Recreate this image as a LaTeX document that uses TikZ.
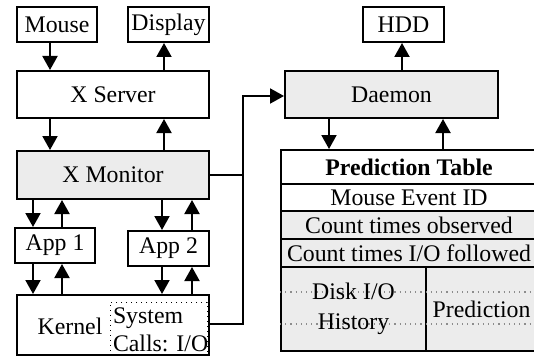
\documentclass[tikz,border=0pt]{standalone}
\usepackage{fontspec}
\setmainfont{Liberation Serif}
\usepackage{tikz}
\usetikzlibrary{arrows.meta}
\definecolor{boxgray}{rgb}{0.925,0.925,0.925}
\definecolor{dotgray}{rgb}{0.55,0.55,0.55}
\tikzset{
  box/.style={draw,line width=1pt,inner sep=0pt,font=\fontsize{11.9}{14}\selectfont},
  graybox/.style={box,fill=boxgray},
  callbox/.style={draw,dotted,line width=0.5pt,inner sep=0pt},
  plain/.style={inner sep=0pt,font=\fontsize{11.9}{14}\selectfont}
}
\begin{document}
\begin{tikzpicture}[line cap=butt,line join=miter,>={Triangle[length=7pt,width=7.5pt]},x=0.5pt,y=-0.5pt,line width=1pt]
\useasboundingbox (0,0) rectangle (534,358);
\clip (0,0) rectangle (534,358);
\node[box,minimum width=40pt,minimum height=17.5pt] (mouse) at (57,24.5) {Mouse};
\node[box,minimum width=40.5pt,minimum height=17.5pt] (display) at (168.5,24.5) {Display};
\node[box,minimum width=96pt,minimum height=23.5pt] (xserver) at (113,94.5) {X Server};
\node[graybox,minimum width=96pt,minimum height=24pt] (xmonitor) at (113,175) {X Monitor};
\node[box,minimum width=40pt,minimum height=17.5pt] (app1) at (55,245.5) {App 1};
\node[box,minimum width=40.5pt,minimum height=17.5pt] (app2) at (168.5,248.5) {App 2};
\node[box,minimum width=96pt,minimum height=30pt] (kernel) at (113,325) {};
\node[plain] (kerneltxt) at (70,326) {Kernel};
\node[callbox,minimum width=48.5pt,minimum height=26.5pt] (syscalls) at (158.5,328.5) {};
\node[plain,align=left,anchor=west] (calltxt) at (112,330) {System\\Calls: I/O};
\node[box,minimum width=40.5pt,minimum height=17.5pt] (hdd) at (403.5,24.5) {HDD};
\node[graybox,minimum width=106.5pt,minimum height=23.5pt] (daemon) at (391.5,94.5) {Daemon};
\node[box,minimum width=128pt,minimum height=17pt,font=\fontsize{11.9}{14}\selectfont\bfseries] (title) at (409,167) {Prediction Table};
\node[box,minimum width=128pt,minimum height=13.5pt] (eventid) at (409,197.5) {Mouse Event ID};
\node[graybox,minimum width=128pt,minimum height=14pt] (observed) at (409,225) {Count times observed};
\node[graybox,minimum width=128pt,minimum height=14pt] (followed) at (409,253) {Count times I/O followed};
\node[graybox,minimum width=72.5pt,minimum height=42pt] (history) at (353.5,309) {};
\node[graybox,minimum width=55.5pt,minimum height=42pt] (prediction) at (481.5,309) {};
\draw[dotted,dotgray,line width=0.6pt] (history.west |- 0,292) -- (prediction.east |- 0,292);
\draw[dotted,dotgray,line width=0.6pt] (history.west |- 0,324) -- (prediction.east |- 0,324);
\node[plain,align=center,font=\fontsize{11.9}{15}\selectfont] (histtxt) at (history.center) {Disk I/O\\History};
\node[plain] (predtxt) at (prediction.center) {Prediction};
\draw[->] (50,0 |- mouse.south) -- (50,0 |- xserver.north);
\draw[->] (164,0 |- xserver.north) -- (164,0 |- display.south);
\draw[->] (50,0 |- xserver.south) -- (50,0 |- xmonitor.north);
\draw[->] (164,0 |- xmonitor.north) -- (164,0 |- xserver.south);
\draw[->] (33,0 |- xmonitor.south) -- (33,0 |- app1.north);
\draw[->] (62,0 |- app1.north) -- (62,0 |- xmonitor.south);
\draw[->] (162,0 |- xmonitor.south) -- (162,0 |- app2.north);
\draw[->] (192,0 |- app2.north) -- (192,0 |- xmonitor.south);
\draw[->] (33,0 |- app1.south) -- (33,0 |- kernel.north);
\draw[->] (62,0 |- kernel.north) -- (62,0 |- app1.south);
\draw[->] (162,0 |- app2.south) -- (162,0 |- kernel.north);
\draw[->] (192,0 |- kernel.north) -- (192,0 |- app2.south);
\draw[->] (402,0 |- daemon.north) -- (402,0 |- hdd.south);
\draw[->] (329,0 |- daemon.south) -- (329,0 |- title.north);
\draw[->] (443,0 |- title.north) -- (443,0 |- daemon.south);
\coordinate (bus) at (243,96);
\draw[->] (xmonitor.east) -| (bus) -- (daemon.west |- bus);
\draw (kernel.east |- 0,324) -| (bus);
\end{tikzpicture}
\end{document}
